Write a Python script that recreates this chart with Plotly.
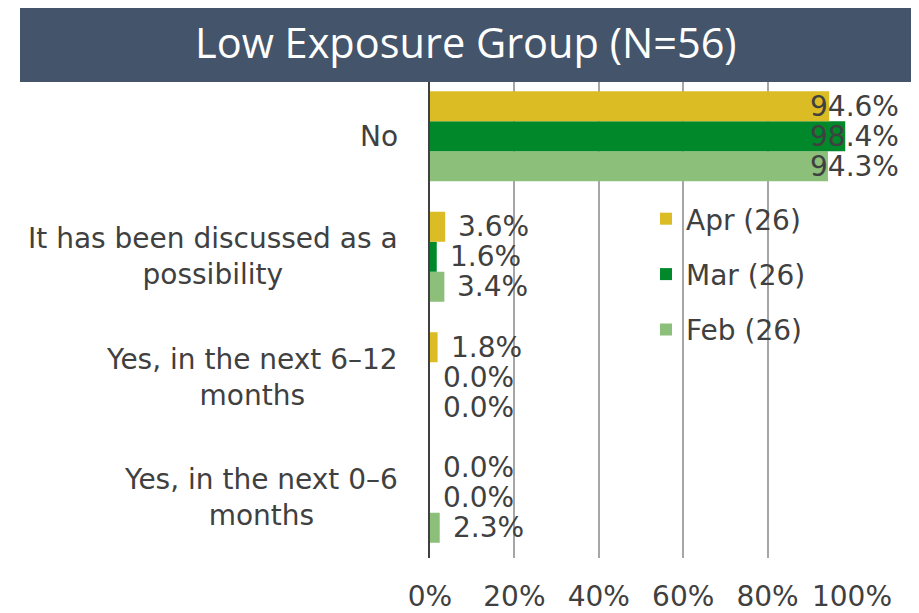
import plotly.graph_objects as go

categories = [
    "No",
    "It has been discussed as a<br>possibility",
    "Yes, in the next 6–12<br>months",
    "Yes, in the next 0–6<br>months",
]
series_names = ["Apr (26)", "Mar (26)", "Feb (26)"]
apr = [0.946, 0.036, 0.018, 0.0]
mar = [0.984, 0.016, 0.0, 0.0]
feb = [0.943, 0.034, 0.0, 0.023]
colors = ["#DBBC24", "#00882B", "#8BBF7A"]
tick_vals = [0, 0.2, 0.4, 0.6, 0.8, 1.0]
title_text = "Low Exposure Group (N=56)"

W, H = 919, 613
OFF = 8  # page body margin
# plot area in screen pixels
SX0, SX1, SY0, SY1 = 430, 852, 76, 558
ML = SX0 - OFF
MR = W - (SX1 - OFF)
MT = SY0 - OFF
MB = H - (SY1 - OFF)
plot_w = SX1 - SX0
plot_h = SY1 - SY0
bargap = 0.253
cat_h = plot_h / len(categories)
bar_px = cat_h * (1 - bargap) / 3
txt_color = "#404040"
font_main = "DejaVu Sans, Verdana, sans-serif"
fs = 28

series = [apr, mar, feb]
fig = go.Figure()
# add bottom-to-top within group: Feb, Mar, Apr
for idx in [2, 1, 0]:
    fig.add_trace(go.Bar(
        y=categories, x=series[idx], orientation="h",
        name=series_names[idx], marker=dict(color=colors[idx], line=dict(width=0)),
        legendgroup=series_names[idx], legendrank=idx + 1, hoverinfo="skip",
    ))

annotations = []
shifts = [bar_px, 0, -bar_px]
for si, vals in enumerate(series):
    for ci, v in enumerate(vals):
        label = f"{v*100:.1f}%"
        if v > 0.9:
            annotations.append(dict(x=tick_vals[-1], y=categories[ci], xref="x", yref="y",
                                    text=label, showarrow=False, xanchor="right",
                                    xshift=49, yshift=shifts[si],
                                    font=dict(family=font_main, size=fs, color=txt_color)))
        else:
            annotations.append(dict(x=v, y=categories[ci], xref="x", yref="y",
                                    text=label, showarrow=False, xanchor="left",
                                    xshift=11, yshift=shifts[si],
                                    font=dict(family=font_main, size=fs, color=txt_color)))
for c in categories:
    annotations.append(dict(x=0, y=c, xref="x", yref="y", text=c, showarrow=False,
                            xanchor="right", align="center", xshift=-30,
                            font=dict(family=font_main, size=fs, color=txt_color)))

px2x = lambda p: (p - SX0) / plot_w
px2y = lambda p: (SY1 - p) / plot_h
annotations.append(dict(x=px2x(466), y=px2y(42), xref="paper", yref="paper",
                        text=title_text, showarrow=False, xanchor="center", yanchor="middle",
                        font=dict(family="Open Sans, Noto Sans, sans-serif", size=41.5, color="white")))

fig.update_layout(
    width=W, height=H,
    margin=dict(l=ML, r=MR, t=MT, b=MB, pad=0, autoexpand=False),
    barmode="group", bargap=bargap, bargroupgap=0,
    plot_bgcolor="white", paper_bgcolor="white",
    font=dict(family=font_main, size=fs, color=txt_color),
    showlegend=True,
    legend=dict(x=px2x(646), y=px2y(194), xanchor="left", yanchor="top",
                traceorder="grouped", tracegroupgap=16,
                bgcolor="rgba(0,0,0,0)", font=dict(family=font_main, size=fs, color=txt_color)),
    xaxis=dict(range=[0, tick_vals[-1]], tickvals=tick_vals, tickformat=".0%",
               showgrid=True, gridcolor="#A6A6A6", gridwidth=2, zeroline=False,
               showline=False, ticks="", ticklabelstandoff=19, fixedrange=True,
               automargin=False),
    yaxis=dict(categoryorder="array", categoryarray=categories[::-1], showticklabels=False,
               showline=True, linecolor="#404040", linewidth=2, showgrid=False, ticks="",
               zeroline=False, fixedrange=True, automargin=False),
    shapes=[dict(type="rect", xref="paper", yref="paper",
                 x0=px2x(20), x1=px2x(912), y0=px2y(82), y1=px2y(4),
                 fillcolor="#44546A", line=dict(width=0), layer="above")],
    annotations=annotations,
)
fig.write_html("out.html")
